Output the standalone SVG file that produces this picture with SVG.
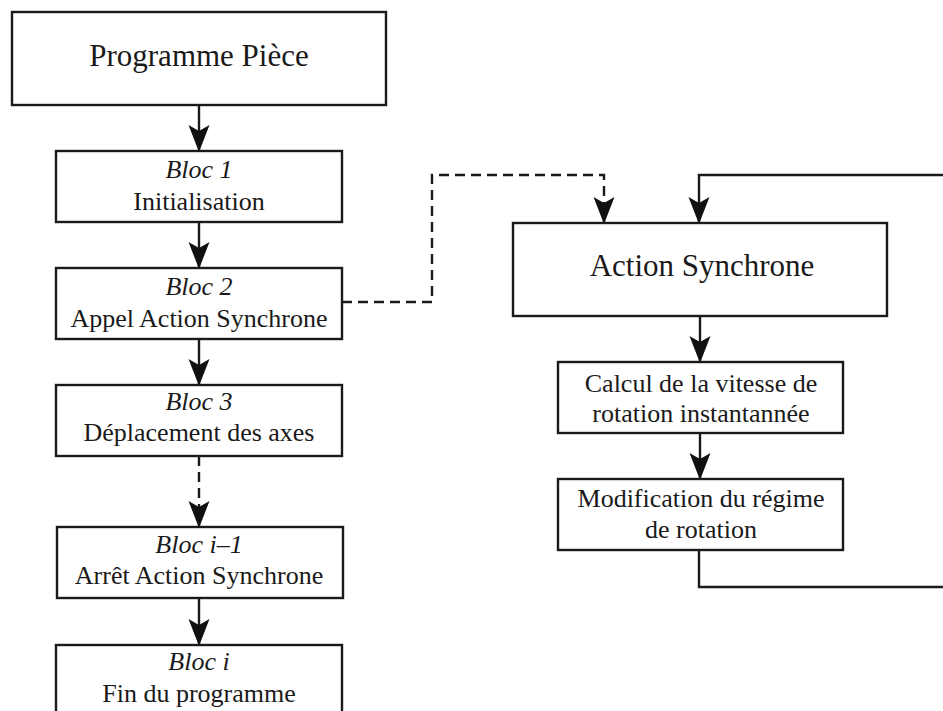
<svg xmlns="http://www.w3.org/2000/svg" width="943" height="711" viewBox="0 0 943 711">
<defs>
<marker id="ah" markerUnits="userSpaceOnUse" viewBox="0 -11 27 22" markerWidth="27" markerHeight="22" refX="26" refY="0" orient="auto">
<path d="M0,-10.5 L27,0 L0,10.5 L6,0 Z" fill="#111"/>
</marker>
</defs>
<style>
.box{fill:#fff;stroke:#1a1a1a;stroke-width:2.4}
.ln{fill:none;stroke:#1a1a1a;stroke-width:2.4}
.dash{stroke-dasharray:10 6}
text{font-family:"Liberation Serif","Times New Roman",serif;fill:#1a1a1a;text-anchor:middle}
.t{font-size:26px}
.i{font-size:26px;font-style:italic}
.big{font-size:31px}
</style>
<g id="connectors">
<path class="ln" d="M199,105 V151" marker-end="url(#ah)"/>
<path class="ln" d="M199,222 V268" marker-end="url(#ah)"/>
<path class="ln" d="M199,339 V385" marker-end="url(#ah)"/>
<path class="ln dash" d="M199,456 V527" marker-end="url(#ah)"/>
<path class="ln" d="M199,598 V645" marker-end="url(#ah)"/>
<path class="ln dash" d="M342,302 H432 V175 H604 V223" marker-end="url(#ah)"/>
<path class="ln" d="M943,175 H699 V223" marker-end="url(#ah)"/>
<path class="ln" d="M700,316 V362" marker-end="url(#ah)"/>
<path class="ln" d="M700,433 V479" marker-end="url(#ah)"/>
<path class="ln" d="M699,550 V587 H943"/>
</g>
<g id="programme">
<rect class="box" x="12" y="12" width="374" height="93"/>
<text class="big" x="199" y="66">Programme Pièce</text>
</g>
<g id="bloc1">
<rect class="box" x="56" y="151" width="286" height="71"/>
<text class="i" x="199" y="178">Bloc 1</text>
<text class="t" x="199" y="210">Initialisation</text>
</g>
<g id="bloc2">
<rect class="box" x="56" y="268" width="286" height="71"/>
<text class="i" x="199" y="295">Bloc 2</text>
<text class="t" x="199" y="327">Appel Action Synchrone</text>
</g>
<g id="bloc3">
<rect class="box" x="56" y="385" width="286" height="71"/>
<text class="i" x="199" y="410">Bloc 3</text>
<text class="t" x="199" y="441">Déplacement des axes</text>
</g>
<g id="bloci1">
<rect class="box" x="57" y="527" width="286" height="71"/>
<text class="i" x="199" y="553">Bloc i–1</text>
<text class="t" x="199" y="584">Arrêt Action Synchrone</text>
</g>
<g id="bloci">
<rect class="box" x="56" y="645" width="286" height="80"/>
<text class="i" x="199" y="670">Bloc i</text>
<text class="t" x="199" y="702">Fin du programme</text>
</g>
<g id="action">
<rect class="box" x="513" y="223" width="374" height="93"/>
<text class="big" x="702" y="276">Action Synchrone</text>
</g>
<g id="calcul">
<rect class="box" x="558" y="362" width="285" height="71"/>
<text class="t" x="701" y="392">Calcul de la vitesse de</text>
<text class="t" x="701" y="422">rotation instantannée</text>
</g>
<g id="modif">
<rect class="box" x="558" y="479" width="285" height="71"/>
<text class="t" x="701" y="507">Modification du régime</text>
<text class="t" x="701" y="538">de rotation</text>
</g>
</svg>
